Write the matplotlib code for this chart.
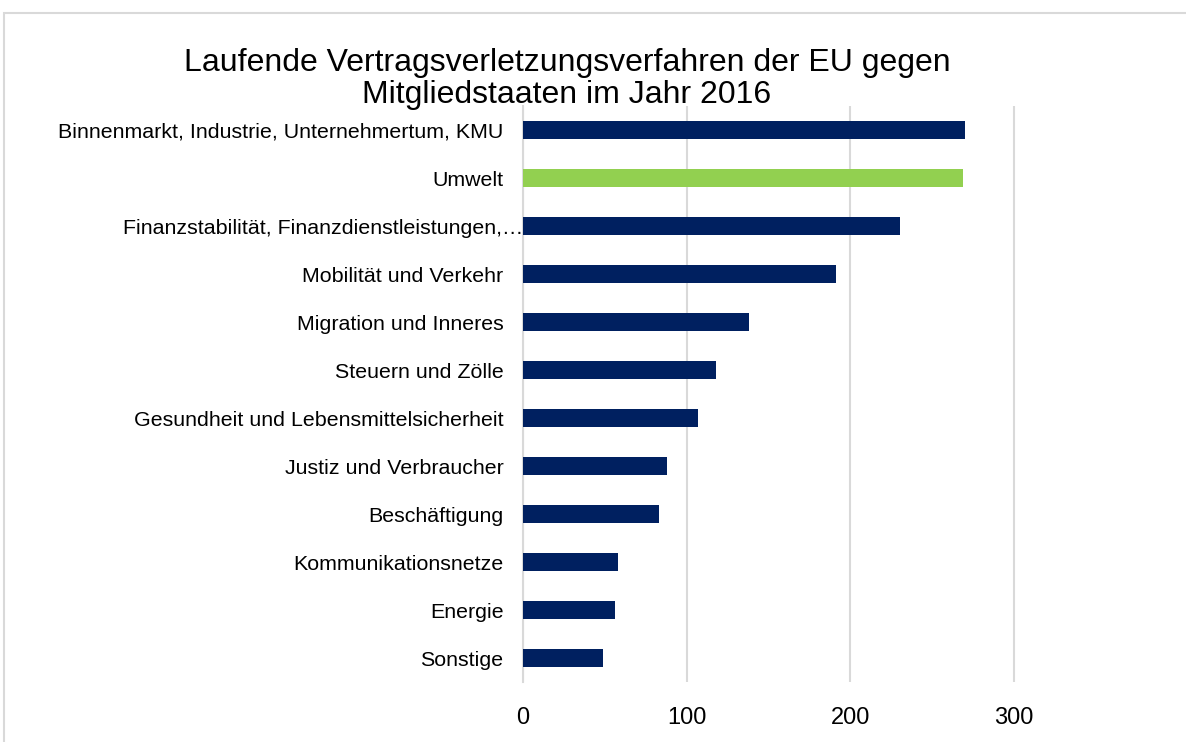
import matplotlib.pyplot as plt
from matplotlib.patches import Rectangle
from matplotlib.transforms import ScaledTranslation

plt.rcParams['font.family'] = ['Liberation Sans', 'DejaVu Sans']

categories = [
    "Binnenmarkt, Industrie, Unternehmertum, KMU",
    "Umwelt",
    "Finanzstabilität, Finanzdienstleistungen,…",
    "Mobilität und Verkehr",
    "Migration und Inneres",
    "Steuern und Zölle",
    "Gesundheit und Lebensmittelsicherheit",
    "Justiz und Verbraucher",
    "Beschäftigung",
    "Kommunikationsnetze",
    "Energie",
    "Sonstige",
]
values = [270, 269, 230, 191, 138, 118, 107, 88, 83, 58, 56, 49]
highlight = "Umwelt"

navy = "#002060"
green = "#92D050"
grid_col = "#d9d9d9"

fig = plt.figure(figsize=(11.86, 7.42), dpi=100)

# outer chart border (cropped at right/bottom)
fig.patches.append(Rectangle((4 / 1186, -0.1), 1.2, (742 - 13) / 742 + 0.1,
                             transform=fig.transFigure, fill=False,
                             edgecolor=grid_col, linewidth=1.5))

ax = fig.add_axes([523 / 1186, 1 - 682 / 742, 1 - 523 / 1186, (682 - 106) / 742])

ypos = list(range(len(categories)))
colors = [green if c == highlight else navy for c in categories]
ax.barh(ypos, values, height=0.36, color=colors, zorder=3)

ax.set_ylim(len(categories) - 0.5, -0.5)
ax.set_xlim(0, 405)
ax.set_xticks([0, 100, 200, 300])
ax.set_yticks(ypos)
ax.set_yticklabels(categories, fontsize=15.4)
ax.tick_params(axis='y', length=0, pad=14)
ax.tick_params(axis='x', length=0, pad=18, labelsize=17)
ax.xaxis.grid(True, color=grid_col, linewidth=1.5, zorder=0)
for s in ['top', 'right', 'bottom']:
    ax.spines[s].set_visible(False)
ax.spines['left'].set_color(grid_col)
ax.spines['left'].set_linewidth(1.5)

# truncated label runs up to the axis, like the original
for lbl in ax.get_yticklabels():
    if lbl.get_text().endswith("…"):
        lbl.set_transform(lbl.get_transform() + ScaledTranslation(0.2, 0, fig.dpi_scale_trans))

fig.text(567 / 1186, 1 - 103 / 742,
         "Laufende Vertragsverletzungsverfahren der EU gegen\nMitgliedstaaten im Jahr 2016",
         ha='center', va='baseline', fontsize=23, linespacing=1.1)

fig.savefig("out.png", dpi=100)
